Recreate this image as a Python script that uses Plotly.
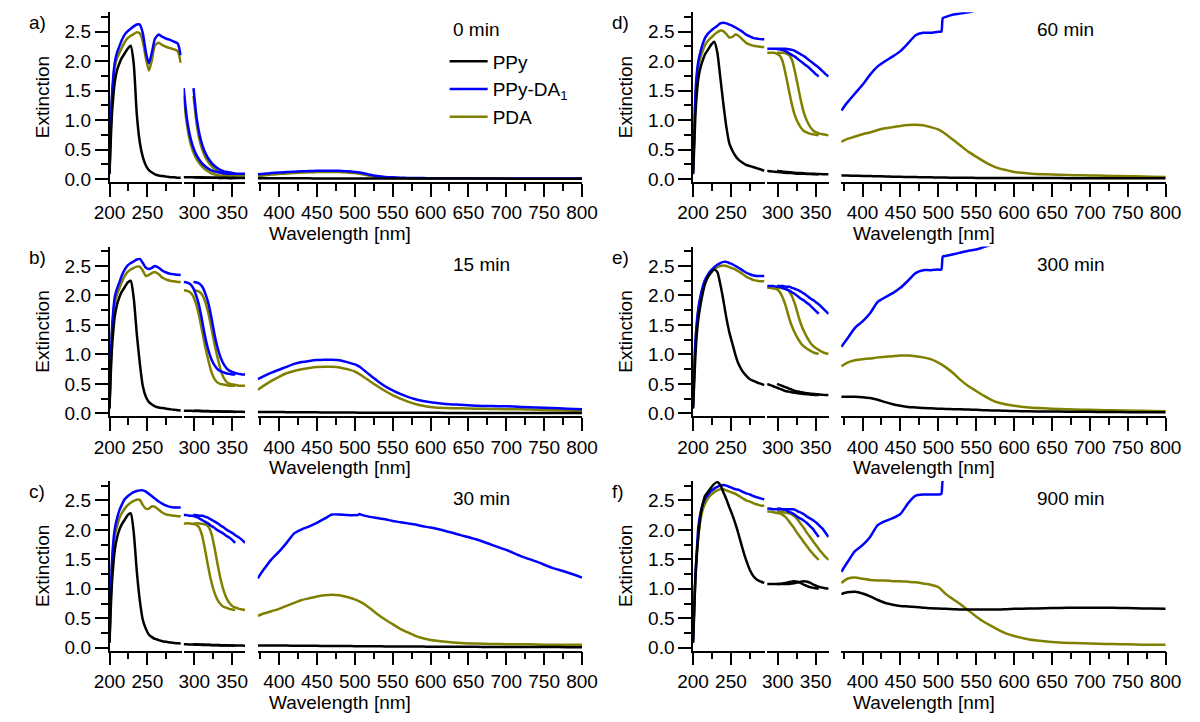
import plotly.graph_objects as go

# ---------------- wavelength grids (nm) ----------------
WL_S1 = [200, 201, 203, 205, 207, 210, 213, 216, 220, 224, 228, 232, 236, 240, 244, 248, 252, 256, 260, 265, 270, 275, 280, 285, 290, 294]
WL_S2A = [286, 290, 294, 298, 302, 306, 310, 314, 318, 322, 326, 330, 334, 338, 342, 346, 350, 354]
WL_S2B = [299, 303, 307, 311, 315, 319, 323, 327, 331, 335, 339, 343, 347, 351, 355, 359, 363, 367]
WL_S3 = [372, 380, 390, 400, 410, 420, 430, 440, 450, 460, 470, 480, 490, 500, 510, 520, 530, 540,
         550, 560, 570, 580, 590, 600, 620, 640, 660, 680, 700, 720, 740, 760, 780, 800]
WL_S3_DA = [372, 380, 390, 400, 410, 420, 430, 440, 450, 460, 470, 480, 490, 500, 504, 506, 510, 520, 530, 540,
            550, 560, 570, 580, 590, 600, 620, 640, 660, 680, 700, 720, 740, 760, 780, 800]

# ---------------- a) 0 min ----------------
PPY_A_S1 = [0.08, 0.45, 1.05, 1.4, 1.65, 1.85, 1.96, 2.05, 2.13, 2.21, 2.26, 1.95, 1.1, 0.62, 0.37, 0.23, 0.15, 0.11, 0.08, 0.06, 0.05, 0.04, 0.03, 0.03, 0.02, 0.02]
DA_A_S1 = [0.1, 0.6, 1.36, 1.75, 1.98, 2.15, 2.25, 2.35, 2.45, 2.51, 2.55, 2.59, 2.62, 2.62, 2.47, 2.15, 1.96, 2.15, 2.38, 2.45, 2.41, 2.38, 2.36, 2.33, 2.3, 2.1]
PDA_A_S1 = [0.1, 0.6, 1.3, 1.68, 1.9, 2.05, 2.14, 2.22, 2.32, 2.39, 2.43, 2.46, 2.49, 2.47, 2.33, 2.05, 1.84, 2.02, 2.27, 2.31, 2.27, 2.24, 2.22, 2.2, 2.17, 1.97]
PPY_A_S2 = [0.03, 0.03, 0.03, 0.03, 0.025, 0.025, 0.02, 0.02, 0.02, 0.02, 0.02, 0.02, 0.015, 0.015, 0.015, 0.015, 0.015, 0.015]
DA_A_S2 = [1.54, 1.05, 0.75, 0.56, 0.43, 0.34, 0.27, 0.22, 0.18, 0.15, 0.13, 0.12, 0.11, 0.1, 0.09, 0.09, 0.09, 0.09]
PDA_A_S2 = [1.41, 0.95, 0.66, 0.48, 0.36, 0.28, 0.22, 0.17, 0.13, 0.1, 0.08, 0.07, 0.06, 0.05, 0.05, 0.05, 0.05, 0.05]
PPY_A_S3 = [0.012, 0.012, 0.012, 0.012, 0.011, 0.011, 0.011, 0.011, 0.01, 0.01, 0.01, 0.01, 0.01, 0.01, 0.01, 0.009,
            0.009, 0.009, 0.009, 0.008, 0.008, 0.008, 0.008, 0.008, 0.007, 0.007, 0.007, 0.007, 0.006, 0.006, 0.006, 0.006, 0.005, 0.005]
DA_A_S3 = [0.08, 0.09, 0.1, 0.11, 0.12, 0.125, 0.13, 0.135, 0.14, 0.14, 0.14, 0.14, 0.13, 0.12, 0.115, 0.112, 0.103, 0.072,
           0.05, 0.035, 0.028, 0.022, 0.018, 0.016, 0.015, 0.014, 0.013, 0.012, 0.011, 0.01, 0.01, 0.01, 0.01, 0.01, 0.01, 0.01]
PDA_A_S3 = [0.05, 0.06, 0.075, 0.085, 0.095, 0.1, 0.11, 0.115, 0.12, 0.12, 0.12, 0.12, 0.11, 0.1, 0.08, 0.055,
            0.035, 0.025, 0.018, 0.014, 0.012, 0.01, 0.01, 0.01, 0.01, 0.01, 0.009, 0.009, 0.009, 0.009, 0.008, 0.008, 0.008, 0.008]

# ---------------- b) 15 min ----------------
PPY_B_S1 = [0.08, 0.45, 1.05, 1.4, 1.65, 1.85, 1.97, 2.06, 2.14, 2.22, 2.25, 1.95, 1.35, 0.85, 0.46, 0.28, 0.19, 0.15, 0.12, 0.1, 0.09, 0.08, 0.07, 0.06, 0.055, 0.05]
DA_B_S1 = [0.1, 0.6, 1.36, 1.75, 1.98, 2.12, 2.22, 2.33, 2.44, 2.51, 2.55, 2.58, 2.61, 2.62, 2.55, 2.47, 2.45, 2.47, 2.5, 2.47, 2.42, 2.39, 2.37, 2.36, 2.35, 2.35]
PDA_B_S1 = [0.1, 0.6, 1.3, 1.68, 1.88, 2.02, 2.12, 2.22, 2.33, 2.4, 2.44, 2.47, 2.49, 2.49, 2.42, 2.33, 2.35, 2.38, 2.4, 2.36, 2.3, 2.27, 2.25, 2.24, 2.23, 2.23]
PPY_B_S2 = [0.045, 0.044, 0.043, 0.042, 0.04, 0.039, 0.037, 0.036, 0.035, 0.033, 0.032, 0.031, 0.03, 0.029, 0.028, 0.027, 0.026, 0.025]
DA_B_S2 = [2.23, 2.22, 2.2, 2.14, 2.02, 1.85, 1.6, 1.32, 1.1, 0.94, 0.83, 0.76, 0.72, 0.7, 0.68, 0.67, 0.66, 0.66]
PDA_B_S2 = [2.09, 2.08, 2.06, 2.0, 1.87, 1.68, 1.42, 1.16, 0.93, 0.73, 0.6, 0.53, 0.5, 0.49, 0.48, 0.47, 0.47, 0.47]
PPY_B_S3 = [0.025, 0.024, 0.023, 0.022, 0.021, 0.02, 0.019, 0.018, 0.017, 0.016, 0.015, 0.015, 0.014, 0.013, 0.012, 0.012,
            0.011, 0.011, 0.01, 0.01, 0.01, 0.009, 0.009, 0.009, 0.008, 0.008, 0.007, 0.007, 0.007, 0.006, 0.006, 0.006, 0.005, 0.005]
DA_B_S3 = [0.58, 0.63, 0.69, 0.74, 0.79, 0.84, 0.87, 0.89, 0.905, 0.91, 0.91, 0.9, 0.87, 0.83, 0.808, 0.794, 0.755, 0.65,
           0.55, 0.46, 0.39, 0.33, 0.28, 0.24, 0.21, 0.19, 0.16, 0.145, 0.13, 0.125, 0.12, 0.11, 0.1, 0.09, 0.08, 0.07]
PDA_B_S3 = [0.4, 0.47, 0.55, 0.62, 0.68, 0.72, 0.75, 0.77, 0.785, 0.79, 0.79, 0.78, 0.75, 0.71, 0.635, 0.545,
            0.46, 0.38, 0.31, 0.25, 0.2, 0.16, 0.13, 0.11, 0.09, 0.085, 0.08, 0.075, 0.07, 0.07, 0.06, 0.055, 0.05, 0.04]

# ---------------- c) 30 min ----------------
PPY_C_S1 = [0.08, 0.45, 1.05, 1.4, 1.66, 1.87, 2.0, 2.09, 2.17, 2.25, 2.28, 1.95, 1.3, 0.8, 0.47, 0.32, 0.22, 0.18, 0.15, 0.13, 0.11, 0.1, 0.09, 0.08, 0.075, 0.07]
DA_C_S1 = [0.1, 0.6, 1.4, 1.8, 2.02, 2.2, 2.33, 2.42, 2.52, 2.57, 2.61, 2.64, 2.66, 2.67, 2.67, 2.65, 2.61, 2.57, 2.53, 2.48, 2.44, 2.41, 2.39, 2.38, 2.38, 2.38]
PDA_C_S1 = [0.1, 0.6, 1.3, 1.68, 1.9, 2.06, 2.2, 2.28, 2.36, 2.42, 2.46, 2.49, 2.51, 2.51, 2.42, 2.36, 2.36, 2.4, 2.39, 2.34, 2.29, 2.26, 2.25, 2.24, 2.23, 2.23]
PPY_C_S2 = [0.06, 0.058, 0.056, 0.054, 0.052, 0.05, 0.048, 0.046, 0.045, 0.044, 0.042, 0.041, 0.04, 0.039, 0.038, 0.037, 0.036, 0.035]
DA_C_S2 = [2.25, 2.25, 2.24, 2.24, 2.22, 2.2, 2.17, 2.14, 2.11, 2.07, 2.04, 2.0, 1.97, 1.94, 1.9, 1.87, 1.83, 1.78]
PDA_C_S2 = [2.11, 2.11, 2.11, 2.1, 2.09, 2.05, 1.92, 1.68, 1.4, 1.15, 0.96, 0.83, 0.75, 0.7, 0.68, 0.66, 0.65, 0.64]
PPY_C_S3 = [0.04, 0.039, 0.038, 0.037, 0.036, 0.035, 0.034, 0.033, 0.032, 0.031, 0.03, 0.029, 0.028, 0.027, 0.026, 0.025,
            0.024, 0.023, 0.022, 0.021, 0.02, 0.02, 0.019, 0.018, 0.017, 0.016, 0.015, 0.014, 0.013, 0.012, 0.012, 0.011, 0.01, 0.01]
DA_C_S3 = [1.18, 1.33, 1.5, 1.63, 1.78, 1.94, 2.01, 2.06, 2.12, 2.19, 2.26, 2.26, 2.25, 2.25, 2.25, 2.27, 2.25, 2.22,
           2.2, 2.18, 2.15, 2.13, 2.11, 2.09, 2.06, 2.04, 1.98, 1.91, 1.84, 1.75, 1.66, 1.55, 1.46, 1.36, 1.28, 1.19]
PDA_C_S3 = [0.54, 0.58, 0.62, 0.66, 0.71, 0.76, 0.81, 0.84, 0.87, 0.89, 0.9, 0.89, 0.86, 0.82, 0.76, 0.67,
            0.57, 0.48, 0.4, 0.32, 0.26, 0.2, 0.16, 0.13, 0.1, 0.08, 0.07, 0.065, 0.06, 0.06, 0.055, 0.05, 0.05, 0.05]

# ---------------- d) 60 min ----------------
PPY_D_S1 = [0.08, 0.35, 1.05, 1.45, 1.7, 1.9, 2.02, 2.12, 2.2, 2.28, 2.33, 2.15, 1.72, 1.28, 0.88, 0.6, 0.48, 0.39, 0.33, 0.28, 0.24, 0.22, 0.2, 0.18, 0.16, 0.14]
DA_D_S1 = [0.1, 0.5, 1.4, 1.8, 2.0, 2.17, 2.3, 2.4, 2.47, 2.52, 2.56, 2.6, 2.64, 2.65, 2.64, 2.62, 2.6, 2.57, 2.54, 2.5, 2.45, 2.42, 2.39, 2.38, 2.37, 2.37]
PDA_D_S1 = [0.1, 0.5, 1.3, 1.7, 1.9, 2.07, 2.18, 2.28, 2.35, 2.4, 2.45, 2.49, 2.52, 2.51, 2.46, 2.4, 2.41, 2.45, 2.43, 2.37, 2.31, 2.28, 2.26, 2.25, 2.24, 2.24]
PPY_D_S2 = [0.14, 0.13, 0.125, 0.12, 0.115, 0.11, 0.105, 0.1, 0.1, 0.095, 0.09, 0.09, 0.09, 0.085, 0.085, 0.08, 0.08, 0.08]
DA_D_S2 = [2.21, 2.21, 2.21, 2.21, 2.2, 2.19, 2.17, 2.14, 2.11, 2.08, 2.04, 2.0, 1.96, 1.92, 1.88, 1.83, 1.78, 1.74]
PDA_D_S2 = [2.14, 2.14, 2.14, 2.13, 2.1, 2.01, 1.8, 1.55, 1.3, 1.1, 0.97, 0.88, 0.82, 0.79, 0.77, 0.76, 0.75, 0.74]
PPY_D_S3 = [0.06, 0.058, 0.055, 0.052, 0.05, 0.047, 0.044, 0.04, 0.037, 0.034, 0.032, 0.03, 0.028, 0.026, 0.024, 0.022,
            0.02, 0.02, 0.019, 0.018, 0.018, 0.017, 0.017, 0.016, 0.016, 0.015, 0.015, 0.014, 0.014, 0.013, 0.013, 0.013, 0.012, 0.012]
DA_D_S3 = [1.16, 1.3, 1.45, 1.6, 1.77, 1.91, 2.0, 2.08, 2.17, 2.3, 2.44, 2.48, 2.48, 2.5, 2.5, 2.73, 2.75, 2.79,
           2.81, 2.83, 2.86, None, None, None, None, None, None, None, None, None, None, None, None, None, None, None]
PDA_D_S3 = [0.63, 0.68, 0.72, 0.76, 0.79, 0.83, 0.86, 0.88, 0.9, 0.915, 0.92, 0.91, 0.88, 0.84, 0.76, 0.66,
            0.56, 0.46, 0.38, 0.3, 0.23, 0.18, 0.15, 0.12, 0.095, 0.08, 0.07, 0.065, 0.06, 0.055, 0.05, 0.045, 0.04, 0.035]

# ---------------- e) 300 min ----------------
PPY_E_S1 = [0.08, 0.35, 0.95, 1.35, 1.6, 1.85, 2.05, 2.2, 2.32, 2.39, 2.44, 2.4, 2.19, 1.92, 1.62, 1.37, 1.18, 0.99, 0.84, 0.72, 0.64, 0.58, 0.55, 0.52, 0.5, 0.48]
DA_E_S1 = [0.1, 0.5, 1.2, 1.55, 1.78, 2.0, 2.16, 2.27, 2.36, 2.43, 2.48, 2.52, 2.55, 2.57, 2.57, 2.55, 2.53, 2.5, 2.47, 2.43, 2.39, 2.36, 2.34, 2.33, 2.33, 2.33]
PDA_E_S1 = [0.1, 0.5, 1.15, 1.5, 1.75, 1.97, 2.12, 2.23, 2.34, 2.42, 2.46, 2.48, 2.5, 2.51, 2.5, 2.48, 2.46, 2.44, 2.41, 2.37, 2.32, 2.29, 2.26, 2.25, 2.24, 2.24]
PPY_E_S2 = [0.5, 0.48, 0.46, 0.44, 0.42, 0.4, 0.38, 0.37, 0.36, 0.35, 0.34, 0.335, 0.33, 0.325, 0.32, 0.315, 0.31, 0.31]
DA_E_S2 = [2.16, 2.16, 2.16, 2.15, 2.15, 2.13, 2.11, 2.09, 2.06, 2.03, 1.99, 1.95, 1.92, 1.88, 1.84, 1.79, 1.74, 1.69]
PDA_E_S2 = [2.13, 2.13, 2.12, 2.11, 2.07, 1.98, 1.84, 1.66, 1.5, 1.38, 1.28, 1.2, 1.14, 1.1, 1.07, 1.04, 1.02, 1.01]
PPY_E_S3 = [0.28, 0.28, 0.28, 0.275, 0.26, 0.23, 0.19, 0.155, 0.13, 0.11, 0.1, 0.09, 0.085, 0.08, 0.076, 0.072,
            0.07, 0.065, 0.06, 0.055, 0.05, 0.047, 0.043, 0.04, 0.035, 0.032, 0.03, 0.028, 0.026, 0.024, 0.022, 0.02, 0.02, 0.02]
DA_E_S3 = [1.13, 1.27, 1.45, 1.56, 1.7, 1.89, 1.97, 2.04, 2.13, 2.25, 2.38, 2.43, 2.43, 2.44, 2.44, 2.66, 2.67, 2.7,
           2.73, 2.76, 2.78, 2.82, 2.86, None, None, None, None, None, None, None, None, None, None, None, None, None]
PDA_E_S3 = [0.8, 0.86, 0.9, 0.92, 0.93, 0.95, 0.96, 0.97, 0.98, 0.98, 0.97, 0.95, 0.92, 0.86, 0.78, 0.68,
            0.56, 0.46, 0.38, 0.3, 0.23, 0.18, 0.15, 0.13, 0.1, 0.085, 0.075, 0.065, 0.06, 0.055, 0.05, 0.045, 0.04, 0.035]

# ---------------- f) 900 min ----------------
PPY_F_S1 = [0.08, 0.4, 1.15, 1.6, 1.9, 2.25, 2.45, 2.58, 2.65, 2.72, 2.78, 2.81, 2.76, 2.64, 2.52, 2.38, 2.25, 2.1, 1.93, 1.7, 1.49, 1.32, 1.21, 1.15, 1.12, 1.1]
DA_F_S1 = [0.1, 0.5, 1.2, 1.65, 2.05, 2.3, 2.44, 2.53, 2.6, 2.66, 2.7, 2.73, 2.75, 2.76, 2.75, 2.73, 2.71, 2.69, 2.68, 2.65, 2.62, 2.6, 2.57, 2.55, 2.53, 2.52]
PDA_F_S1 = [0.1, 0.5, 1.15, 1.55, 1.9, 2.18, 2.35, 2.45, 2.54, 2.6, 2.64, 2.67, 2.69, 2.69, 2.67, 2.65, 2.63, 2.61, 2.58, 2.54, 2.5, 2.48, 2.45, 2.43, 2.41, 2.41]
PPY_F_S2 = [1.08, 1.08, 1.08, 1.08, 1.08, 1.09, 1.1, 1.11, 1.12, 1.13, 1.12, 1.1, 1.07, 1.05, 1.03, 1.02, 1.01, 1.0]
DA_F_S2 = [2.36, 2.36, 2.35, 2.35, 2.35, 2.35, 2.34, 2.31, 2.29, 2.26, 2.22, 2.19, 2.16, 2.12, 2.07, 2.02, 1.95, 1.88]
PDA_F_S2 = [2.31, 2.31, 2.3, 2.29, 2.28, 2.26, 2.22, 2.16, 2.09, 2.02, 1.94, 1.87, 1.8, 1.73, 1.66, 1.6, 1.54, 1.49]
PPY_F_S3 = [0.91, 0.94, 0.95, 0.92, 0.87, 0.81, 0.76, 0.73, 0.71, 0.7, 0.69, 0.68, 0.67, 0.665, 0.66, 0.655,
            0.65, 0.65, 0.65, 0.65, 0.65, 0.65, 0.655, 0.66, 0.665, 0.67, 0.675, 0.68, 0.68, 0.68, 0.675, 0.67, 0.665, 0.66]
DA_F_S3 = [1.29, 1.45, 1.64, 1.74, 1.88, 2.08, 2.15, 2.2, 2.27, 2.45, 2.58, 2.6, 2.6, 2.6, 2.61, 2.84, 2.86, None,
           None, None, None, None, None, None, None, None, None, None, None, None, None, None, None, None, None, None]
PDA_F_S3 = [1.1, 1.17, 1.19, 1.17, 1.15, 1.14, 1.14, 1.13, 1.13, 1.12, 1.11, 1.09, 1.07, 1.03, 0.91, 0.82,
            0.73, 0.63, 0.53, 0.44, 0.37, 0.3, 0.24, 0.2, 0.14, 0.11, 0.09, 0.08, 0.07, 0.065, 0.06, 0.055, 0.05, 0.05]

PANEL_LETTERS = ["a)", "b)", "c)", "d)", "e)", "f)"]
PANEL_TIMES = ["0 min", "15 min", "30 min", "60 min", "300 min", "900 min"]
SERIES_NAMES = ["PPy", "PPy-DA<sub>1</sub>", "PDA"]
SERIES_COLORS = ["#000000", "#0000FF", "#808000"]
SERIES_S3_GRID = [WL_S3, WL_S3_DA, WL_S3]

PANELS = [
    [(PPY_A_S1, PPY_A_S2, PPY_A_S3), (DA_A_S1, DA_A_S2, DA_A_S3), (PDA_A_S1, PDA_A_S2, PDA_A_S3)],
    [(PPY_B_S1, PPY_B_S2, PPY_B_S3), (DA_B_S1, DA_B_S2, DA_B_S3), (PDA_B_S1, PDA_B_S2, PDA_B_S3)],
    [(PPY_C_S1, PPY_C_S2, PPY_C_S3), (DA_C_S1, DA_C_S2, DA_C_S3), (PDA_C_S1, PDA_C_S2, PDA_C_S3)],
    [(PPY_D_S1, PPY_D_S2, PPY_D_S3), (DA_D_S1, DA_D_S2, DA_D_S3), (PDA_D_S1, PDA_D_S2, PDA_D_S3)],
    [(PPY_E_S1, PPY_E_S2, PPY_E_S3), (DA_E_S1, DA_E_S2, DA_E_S3), (PDA_E_S1, PDA_E_S2, PDA_E_S3)],
    [(PPY_F_S1, PPY_F_S2, PPY_F_S3), (DA_F_S1, DA_F_S2, DA_F_S3), (PDA_F_S1, PDA_F_S2, PDA_F_S3)],
]

# ---------------- geometry ----------------
W, H = 1200, 722
FONT = "Liberation Sans, Arial, Helvetica, sans-serif"
FS = 19
COL_SHIFT = [0, 599]
ROW_SHIFT = [0, 237, 474]
NM_PX = 0.7775
SEG_RANGE = [(200, 295.2), (285.9, 367.2), (371.7, 800.6)]
SEG_ANCHOR = [(200, 96.0), (300, 183.0), (400, 270.0)]
Y_RANGE = [-0.05, 2.83]
Y_ZERO_PX = 181.0
Y_UNIT_PX = 59.6


def fx(px):
    return px / W


def fy(px):
    return 1 - px / H


fig = go.Figure()
layout = {}
annotations = []
TXT = dict(size=FS, color="black", family=FONT)

for p in range(6):
    col, row = p // 3, p % 3
    yid = p + 1
    yname = "y" if yid == 1 else f"y{yid}"
    ykey = "yaxis" if yid == 1 else f"yaxis{yid}"
    top_px = Y_ZERO_PX - Y_RANGE[1] * Y_UNIT_PX + ROW_SHIFT[row]
    bot_px = Y_ZERO_PX - Y_RANGE[0] * Y_UNIT_PX + ROW_SHIFT[row]
    xnames = []
    for s in range(3):
        xid = 3 * p + s + 1
        xname = "x" if xid == 1 else f"x{xid}"
        xkey = "xaxis" if xid == 1 else f"xaxis{xid}"
        xnames.append(xname)
        nm0, px0 = SEG_ANCHOR[s]
        left = px0 + (SEG_RANGE[s][0] - nm0) * NM_PX + COL_SHIFT[col]
        right = px0 + (SEG_RANGE[s][1] - nm0) * NM_PX + COL_SHIFT[col]
        layout[xkey] = dict(
            domain=[fx(left), fx(right)], range=list(SEG_RANGE[s]), anchor=yname,
            tickmode="linear", tick0=0, dtick=50, ticks="outside", ticklen=13, tickwidth=1.5,
            tickcolor="black", showline=True, linewidth=1.5, linecolor="black",
            showgrid=False, zeroline=False, tickfont=TXT,
            minor=dict(ticks="outside", ticklen=7, tickwidth=1.5, tickcolor="black", dtick=25, tick0=0, showgrid=False),
        )
    layout[ykey] = dict(
        domain=[fy(bot_px), fy(top_px)], range=Y_RANGE, anchor=xnames[0],
        tickmode="linear", tick0=0, dtick=0.5, tickformat=".1f", ticks="outside", ticklen=13,
        tickwidth=1.5, tickcolor="black", showline=True, linewidth=1.5, linecolor="black",
        showgrid=False, zeroline=False, tickfont=TXT,
        title=dict(text="Extinction", font=TXT, standoff=10),
        minor=dict(ticks="outside", ticklen=7, tickwidth=1.5, tickcolor="black", dtick=0.25, tick0=0, showgrid=False),
    )

    # traces: olive, blue, black (black on top)
    for si in [2, 1, 0]:
        s1, s2, s3 = PANELS[p][si]
        common = dict(mode="lines", line=dict(color=SERIES_COLORS[si], width=2.5, shape="spline", smoothing=0.6),
                      yaxis=yname, hoverinfo="skip", legendgroup=SERIES_NAMES[si], name=SERIES_NAMES[si])
        fig.add_trace(go.Scatter(x=WL_S1, y=s1, xaxis=xnames[0], showlegend=(p == 0), legendrank=si + 1, **common))
        fig.add_trace(go.Scatter(x=WL_S2A, y=s2, xaxis=xnames[1], showlegend=False, **common))
        fig.add_trace(go.Scatter(x=WL_S2B, y=s2, xaxis=xnames[1], showlegend=False, **common))
        fig.add_trace(go.Scatter(x=SERIES_S3_GRID[si], y=s3, xaxis=xnames[2], showlegend=False, **common))

    cx = COL_SHIFT[col]
    ry = ROW_SHIFT[row]
    annotations.append(dict(text=PANEL_LETTERS[p], x=fx(11 + cx), y=fy(23 + ry), xref="paper", yref="paper",
                            xanchor="left", yanchor="middle", showarrow=False, font=TXT))
    annotations.append(dict(text=PANEL_TIMES[p], x=fx(447 + cx), y=fy(30 + ry), xref="paper", yref="paper",
                            xanchor="left", yanchor="middle", showarrow=False, font=TXT))
    annotations.append(dict(text="Wavelength [nm]", x=fx(333 + cx), y=fy(236 + ry), xref="paper", yref="paper",
                            xanchor="center", yanchor="middle", showarrow=False, font=TXT))

layout.update(
    width=W, height=H, margin=dict(l=0, r=0, t=0, b=0),
    paper_bgcolor="white", plot_bgcolor="white",
    font=dict(family=FONT, size=FS, color="black"),
    showlegend=True,
    legend=dict(x=fx(440), y=fy(43), xanchor="left", yanchor="top", bgcolor="rgba(0,0,0,0)",
                borderwidth=0, font=TXT, traceorder="normal", itemwidth=38, tracegroupgap=0),
    annotations=annotations,
)
fig.update_layout(**layout)
fig.write_html("out.html")
